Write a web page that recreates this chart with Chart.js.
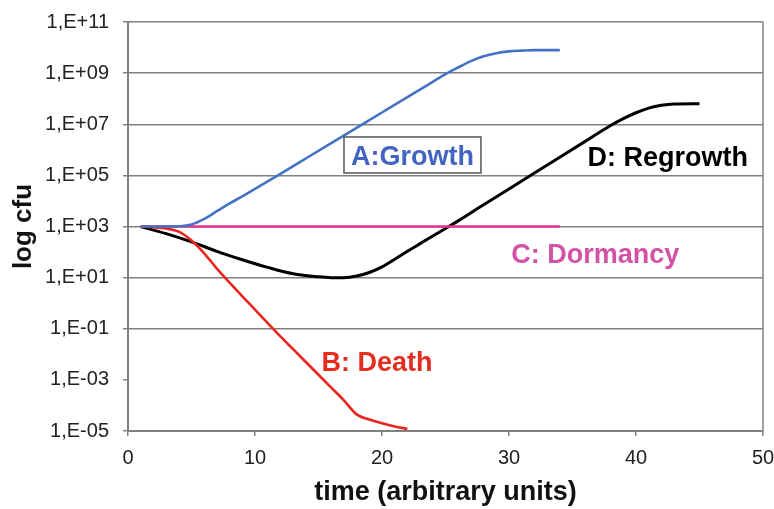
<!DOCTYPE html>
<html>
<head>
<meta charset="utf-8">
<script src="https://cdn.jsdelivr.net/npm/chart.js@4.4.1/dist/chart.umd.min.js"></script>
<style>
  body { margin: 0; background: #fff; }
  #wrap { width: 774px; height: 509px; }
</style>
</head>
<body>
<div id="wrap"><canvas id="logChart" width="774" height="509"></canvas></div>
<script>
// values (y stored as log10 cfu)
const growthX = [1, 2, 3, 4, 5, 6, 7, 8, 9, 10, 12, 14, 16, 18, 20, 22, 24, 25, 26, 27, 28, 29, 30, 31, 32, 34];
const growthLog = [3, 3, 3, 3.01, 3.08, 3.3, 3.6, 3.9, 4.18, 4.47, 5.06, 5.66, 6.26, 6.86, 7.46, 8.06, 8.66, 8.96, 9.22, 9.47, 9.66, 9.78, 9.85, 9.88, 9.9, 9.9];

const deathX = [1, 2, 3, 4, 5, 6, 7, 8, 9, 10, 11, 12, 13, 14, 15, 16, 17, 18, 19, 20, 21, 22];
const deathLog = [3, 2.97, 2.92, 2.8, 2.45, 1.95, 1.35, 0.8, 0.27, -0.25, -0.78, -1.3, -1.8, -2.3, -2.8, -3.3, -3.8, -4.35, -4.55, -4.7, -4.82, -4.92];

const dormancyX = [1, 34];
const dormancyLog = [3, 3];

const regrowthX = [1, 3, 5, 7, 9, 11, 13, 15, 16, 17, 18, 19, 20, 21, 22, 23, 24, 25, 26, 28, 30, 32, 34, 36, 38, 39, 40, 41, 42, 43, 45];
const regrowthLog = [3, 2.72, 2.4, 2.03, 1.7, 1.4, 1.15, 1.03, 1.0, 1.0, 1.06, 1.2, 1.42, 1.72, 2.03, 2.33, 2.63, 2.92, 3.22, 3.85, 4.47, 5.09, 5.71, 6.33, 6.95, 7.22, 7.45, 7.63, 7.74, 7.79, 7.8];

const yTicks = [1e-5, 1e-3, 1e-1, 1e1, 1e3, 1e5, 1e7, 1e9, 1e11];
const xTicks = [0, 10, 20, 30, 40, 50];

const seriesNames = ['A:Growth', 'B: Death', 'C: Dormancy', 'D: Regrowth'];
const seriesColors = ['#4472c4', '#e8251e', '#e8318c', '#000000'];

// label anchors in data units (x, log10 y)
const labelX = [22.4, 19.6, 36.8, 42.5];
const labelLog = [5.72, -2.32, 1.9, 5.69];
const labelColors = ['#4163c2', '#e52d1f', '#d352a8', '#000000'];

const FONT = "'Liberation Sans', Arial, sans-serif";

function toPoints(xs, logs) {
  return xs.map((x, i) => ({ x: x, y: Math.pow(10, logs[i]) }));
}

function fmtTick(v) {
  const e = Math.round(Math.log10(v));
  const sign = e < 0 ? '-' : '+';
  const a = Math.abs(e);
  return '1,E' + sign + (a < 10 ? '0' + a : a);
}

// right side of the plot frame
const frameRight = {
  id: 'frameRight',
  beforeDatasetsDraw(chart) {
    const { ctx, chartArea: a } = chart;
    ctx.save();
    ctx.strokeStyle = '#808080';
    ctx.lineWidth = 1.5;
    ctx.beginPath();
    ctx.moveTo(a.right, a.top);
    ctx.lineTo(a.right, a.bottom);
    ctx.stroke();
    ctx.restore();
  }
};

const curveLabels = {
  id: 'curveLabels',
  afterDatasetsDraw(chart) {
    const { ctx, scales: { x, y } } = chart;
    ctx.save();
    ctx.font = 'bold 27px ' + FONT;
    ctx.textAlign = 'center';
    ctx.textBaseline = 'middle';
    seriesNames.forEach((name, i) => {
      const px = x.getPixelForValue(labelX[i]);
      const py = y.getPixelForValue(Math.pow(10, labelLog[i]));
      if (i === 0) {
        const w = ctx.measureText(name).width + 14;
        ctx.fillStyle = '#fff';
        ctx.fillRect(px - w / 2, py - 20, w, 36);
        ctx.strokeStyle = '#555';
        ctx.lineWidth = 1.5;
        ctx.strokeRect(px - w / 2, py - 20, w, 36);
      }
      ctx.fillStyle = labelColors[i];
      ctx.fillText(name, px, py + 1);
    });
    ctx.restore();
  }
};

const allX = [growthX, deathX, dormancyX, regrowthX];
const allLog = [growthLog, deathLog, dormancyLog, regrowthLog];

new Chart(document.getElementById('logChart'), {
  type: 'line',
  data: {
    datasets: seriesNames.map((name, i) => ({
      label: name,
      data: toPoints(allX[i], allLog[i]),
      borderColor: seriesColors[i],
      borderWidth: i === 3 ? 3 : 2.6,
      pointRadius: 0,
      fill: false,
      cubicInterpolationMode: 'monotone'
    }))
  },
  options: {
    responsive: false,
    animation: false,
    layout: { padding: { top: 22, right: 11, left: 0, bottom: 0 } },
    plugins: {
      legend: { display: false },
      tooltip: { enabled: false }
    },
    scales: {
      x: {
        type: 'linear',
        min: 0,
        max: 50,
        afterBuildTicks: s => { s.ticks = xTicks.map(v => ({ value: v })); },
        afterFit: s => { s.height = 78; s.paddingRight = 0; },
        grid: { drawOnChartArea: false, tickLength: 5, color: '#808080', lineWidth: 1.5 },
        border: { color: '#808080', width: 2 },
        ticks: { color: '#222', font: { family: FONT, size: 20 }, padding: 10 },
        title: {
          display: true,
          text: 'time (arbitrary units)',
          color: '#111',
          font: { family: FONT, size: 27, weight: 'bold' },
          padding: { top: 0, bottom: 0 }
        }
      },
      y: {
        type: 'logarithmic',
        min: 1e-5,
        max: 1e11,
        afterBuildTicks: s => { s.ticks = yTicks.map(v => ({ value: v })); },
        afterFit: s => { s.width = 128; s.paddingTop = 0; s.paddingBottom = 0; },
        grid: {
          tickLength: 5,
          lineWidth: 1.5,
          color: c => (c.tick && c.tick.value === 1e-3) ? 'rgba(0,0,0,0)' : '#808080',
          tickColor: '#808080'
        },
        border: { color: '#808080', width: 2 },
        ticks: { color: '#222', font: { family: FONT, size: 20 }, padding: 14, callback: v => fmtTick(v) },
        title: {
          display: true,
          text: 'log cfu',
          color: '#111',
          font: { family: FONT, size: 26, weight: 'bold' },
          padding: { top: 8, bottom: 0 }
        }
      }
    }
  },
  plugins: [frameRight, curveLabels]
});
</script>
</body>
</html>
